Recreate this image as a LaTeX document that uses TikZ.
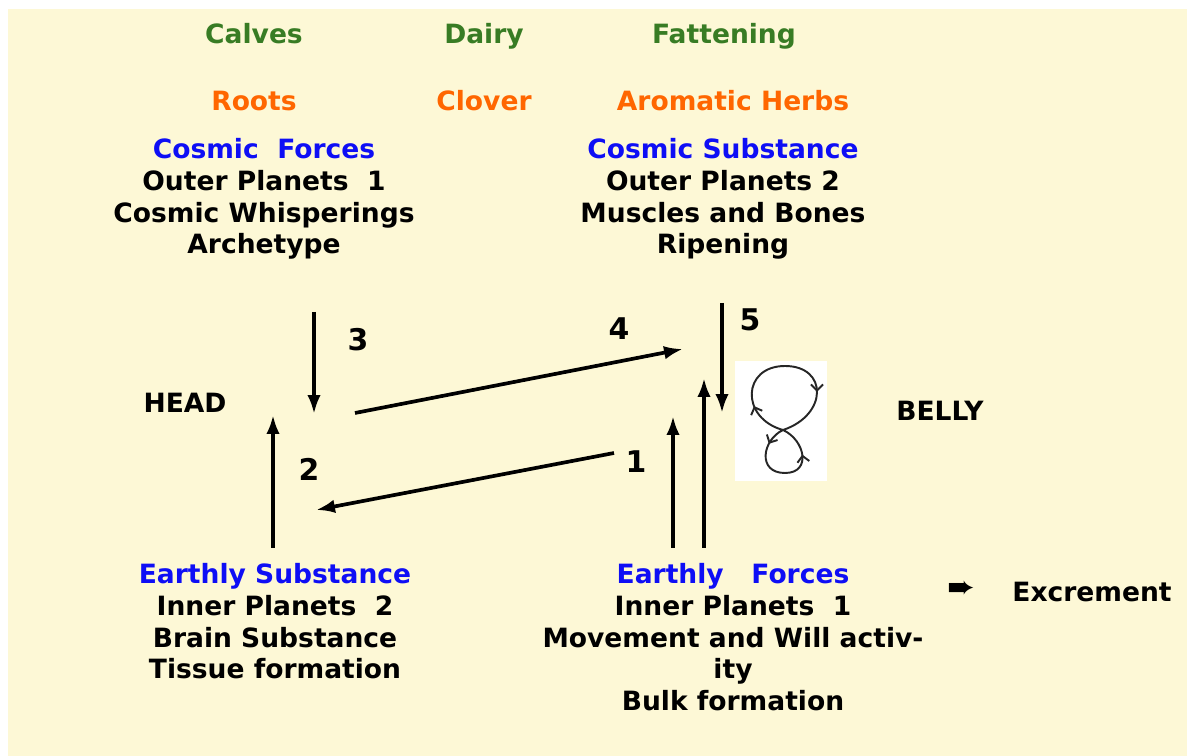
\documentclass[tikz,border=0pt]{standalone}
\usepackage{fontspec}
\setmainfont{DejaVu Sans}
\usetikzlibrary{arrows.meta,decorations.markings}
\definecolor{paper}{RGB}{253,248,214}
\definecolor{green}{RGB}{56,124,36}
\definecolor{orange}{RGB}{255,102,0}
\definecolor{blue}{RGB}{14,14,245}

\begin{document}
\begin{tikzpicture}[x=0.02cm, y=-0.02cm,
  every node/.style={font=\fontsize{15.1}{18.1}\selectfont\bfseries, inner sep=0pt, align=center},
  num/.style={font=\fontsize{17}{20}\selectfont\bfseries},
  flow/.style={-{Latex[length=0.38cm, width=0.27cm]}, line width=2.1pt}]
\fill[paper] (8,9) rectangle (1187,756);
\useasboundingbox (0,0) rectangle (1187,756);
% animals and plants
\node[green, anchor=base] (calves) at (254,43.5) {Calves};
\node[green, anchor=base] (dairy) at (484,43.5) {Dairy};
\node[green, anchor=base] (fatten) at (724,43.5) {Fattening};
\node[orange, anchor=base] (roots) at (254,110.5) {Roots};
\node[orange, anchor=base] (clover) at (484,110.5) {Clover};
\node[orange, anchor=base] (herbs) at (733,110.5) {Aromatic Herbs};
% the four blocks
\node[anchor=north] (cforce) at (264,138) {\textcolor{blue}{Cosmic\ \ Forces}\\Outer Planets\ \ 1\\Cosmic Whisperings\\Archetype};
\node[anchor=north] (csubst) at (723,138) {\textcolor{blue}{Cosmic Substance}\\Outer Planets 2\\Muscles and Bones\\Ripening};
\node[anchor=north] (esubst) at (275,563) {\textcolor{blue}{Earthly Substance}\\Inner Planets\ \ 2\\Brain Substance\\Tissue formation};
\node[anchor=north] (eforce) at (733,563) {\textcolor{blue}{Earthly\ \ \ Forces}\\Inner Planets\ \ 1\\Movement and Will activ-\\ity\\Bulk formation};
\node (head) at (185,403) {HEAD};
\node (belly) at (940,411) {BELLY};
\node (mark) at (961,590) {\fontsize{19}{19}\selectfont ➨};
\node (excr) at (1092,592) {Excrement};
% loop picture
\fill[white] (735,361) rectangle (827,481);
\draw[line width=1.1pt, black!85, postaction={decorate},
  decoration={markings,
    mark=at position 0.12 with {\arrow{Straight Barb[length=1.2mm]}},
    mark=at position 0.45 with {\arrow{Straight Barb[length=1.2mm]}},
    mark=at position 0.68 with {\arrow{Straight Barb[length=1.2mm]}},
    mark=at position 0.9 with {\arrow{Straight Barb[length=1.2mm]}}}]
  (783,430) .. controls (740,418) and (742,366) .. (785,366)
  .. controls (828,366) and (828,415) .. (783,430)
  .. controls (762,440) and (757,473) .. (785,473)
  .. controls (812,473) and (805,440) .. (783,430);
% arrow ends
\coordinate (p3a) at (314,312);
\coordinate (p3b) at (314,414);
\coordinate (p2a) at (273,548);
\coordinate (p2b) at (273,415);
\coordinate (p4a) at (355,413);
\coordinate (p4b) at (683,349);
\coordinate (p1a) at (614,453);
\coordinate (p1b) at (316,510);
\coordinate (p5a) at (722,303);
\coordinate (p5b) at (722,413);
\coordinate (pua) at (673,548);
\coordinate (pub) at (673,416);
\coordinate (pva) at (704,548);
\coordinate (pvb) at (704,378);
\draw[flow] (p3a) -- (p3b);
\draw[flow] (p2a) -- (p2b);
\draw[flow] (p4a) -- (p4b);
\draw[flow] (p1a) -- (p1b);
\draw[flow] (p5a) -- (p5b);
\draw[flow] (pua) -- (pub);
\draw[flow] (pva) -- (pvb);
\node[num] (n3) at (358,340) {3};
\node[num] (n4) at (619,329) {4};
\node[num] (n5) at (750,320) {5};
\node[num] (n2) at (309,469) {2};
\node[num] (n1) at (636,462) {1};
\end{tikzpicture}
\end{document}
